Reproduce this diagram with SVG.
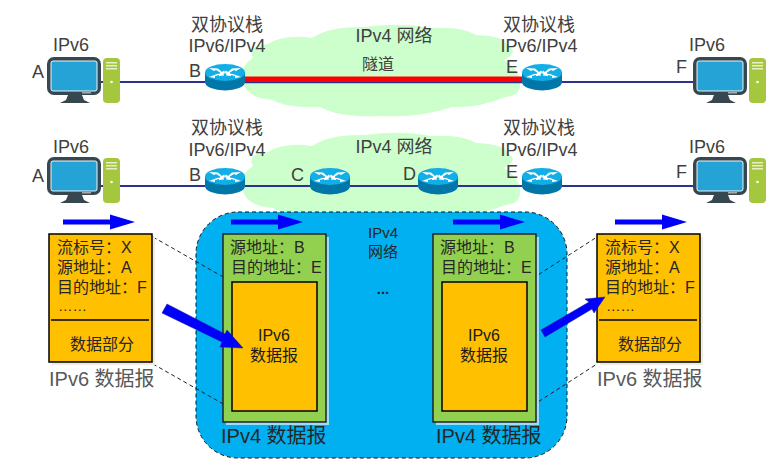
<svg xmlns="http://www.w3.org/2000/svg" width="775" height="464" viewBox="0 0 775 464">
<style>
text{font-family:"Liberation Sans","Noto Sans CJK SC",sans-serif}
.t18{font-size:18px;fill:#404040}
.t20{font-size:20px;fill:#595959}
.t20d{font-size:20px;fill:#262626}
.t16{font-size:16px;fill:#262626}
.t16b{font-size:16px;fill:#1a1a1a}
.t16c{font-size:16px;fill:#404040}
.t15{font-size:15px;fill:#262626}
.mid{text-anchor:middle}
.link{stroke:#2e3192;stroke-width:2;fill:none}
.dash{stroke:#222;stroke-width:1;stroke-dasharray:4 3;fill:none}
.cl{fill:#ccffcc}
.or{fill:#ffc000;stroke:#000;stroke-width:1.5}
.gr{fill:#92d050;stroke:#222;stroke-width:1.5}
.blue{fill:#0000ff}
.shadow{fill:#eeece1}
</style>
<defs>
<path id="cloud" class="cl" d="M253 58Q246 46 268 44Q285 34 312 38Q330 26 365 27Q400 22 430 28Q462 26 476 35Q505 36 507 45Q520 52 504 60Q522 72 520 85Q520 96 505 97Q480 108 452 107Q420 118 383 116Q340 118 320 107Q285 108 273 100Q245 98 242 80Q240 66 253 58z"/>
<g id="pc">
<rect x="49" y="59" width="50" height="34" rx="5" fill="#25a3d6" stroke="#37474f" stroke-width="4"/>
<rect x="51" y="61" width="46" height="30" rx="2" fill="#25a3d6" stroke="#e8f4f8" stroke-width="1"/>
<path d="M68 95h14l2 5 6 3h-30l6-3z" fill="#37474f"/>
<rect x="82" y="92" width="9" height="1.500" fill="#aaa"/>
<rect x="103" y="58" width="17" height="45" rx="4" fill="#a4c73e"/>
<rect x="106" y="62" width="11" height="1.500" fill="#e8efc8"/>
<rect x="106" y="65" width="11" height="1.500" fill="#e8efc8"/>
<rect x="106" y="68" width="11" height="1.500" fill="#e8efc8"/>
<circle cx="111.500" cy="82" r="1.300" fill="#fff"/>
</g>
<g id="router">
<path d="M-20 -4v9a20 8.500 0 0 0 40 0v-9z" fill="#0077a8"/>
<ellipse cx="0" cy="-4.500" rx="20" ry="8.500" fill="#12aee6"/>
<path d="M-16 -9L-7 -8.500-3 -5-1 -6.500 1 -3.500-5 -3-5 -4.500-9 -7-11 -6zM16 -9L7 -8.500 3 -5 1 -6.500-1 -3.500 5 -3 5 -4.500 9 -7 11 -6zM-16 0L-8 -3-3.500 -3.500-2 -5-1 -1.500-6 -1-6 -2-10 -1-10 1zM16 0L8 -3 3.500 -3.500 2 -5 1 -1.500 6 -1 6 -2 10 -1 10 1z" fill="#fff"/>
</g>
<path id="arr" d="M0 -2.500H47V-7.500L72 0 47 7.500V2.500H0z" class="blue"/>
<g id="dg">
<rect x="3" y="3" width="103" height="128" class="shadow"/>
<rect x="0" y="0" width="103" height="128" class="or"/>
<path d="M2 86H100" stroke="#000" stroke-width="1.500"/>
<text x="8" y="19" class="t16">流标号：X</text>
<text x="8" y="39" class="t16">源地址：A</text>
<text x="8" y="59" class="t16">目的地址：F</text>
<text x="9" y="77" class="t15" style="font-size:14.500px">……</text>
<text x="53" y="116" class="t16 mid">数据部分</text>
</g>
<g id="v4">
<rect x="3" y="3" width="103" height="188" fill="#fff" opacity=".6"/>
<rect x="0" y="0" width="103" height="188" class="gr"/>
<rect x="9" y="48" width="85" height="129" class="or"/>
<text x="7" y="19" class="t16">源地址：B</text>
<text x="8" y="39" class="t16">目的地址：E</text>
<text x="51" y="107" class="t16b mid">IPv6</text>
<text x="51" y="127" class="t16b mid">数据报</text>
</g>
</defs>

<g id="cloud-top"><use href="#cloud"/><text x="394" y="42" class="t18 mid">IPv4 网络</text></g>
<g id="cloud-bottom"><use href="#cloud" y="108"/><text x="394" y="153" class="t18 mid">IPv4 网络</text></g>

<g id="ipv4-network">
<rect x="196" y="212" width="371" height="246" rx="42" fill="#00b0f0" stroke="#111" stroke-width="1" stroke-dasharray="4 3"/>
<text x="383" y="238" class="t15 mid">IPv4</text>
<text x="383" y="257" class="t15 mid">网络</text>
<text x="383" y="294" class="t15 mid" style="font-weight:bold">...</text>
</g>

<g id="connectors">
<path class="link" d="M96 82H205M562 82H694"/>
<path class="link" style="stroke-width:1.500" d="M245 82.500H522"/>
<rect x="245" y="76.500" width="277" height="5.500" fill="#ff0000"/>
<path class="link" d="M96 186H205M245 186H310M350 186H418M458 186H522M562 186H694"/>
<path class="dash" d="M153 237L232 282M153 364L232 409M527 282L597 237M527 409L597 364"/>
</g>

<g id="pc-a1"><use href="#pc"/><text x="53" y="51" class="t18">IPv6</text><text x="32" y="78" class="t18">A</text></g>
<g id="pc-f1"><use href="#pc" x="646"/><text x="689" y="51" class="t18">IPv6</text><text x="676" y="73" class="t18">F</text></g>
<g id="pc-a2"><use href="#pc" y="100"/><text x="53" y="153" class="t18">IPv6</text><text x="32" y="182" class="t18">A</text></g>
<g id="pc-f2"><use href="#pc" x="646" y="100"/><text x="689" y="153" class="t18">IPv6</text><text x="676" y="178" class="t18">F</text></g>

<g id="router-b1"><use href="#router" x="225" y="77"/><text x="189" y="77" class="t18">B</text><text x="227" y="31" class="t18 mid">双协议栈</text><text x="227" y="52" class="t18 mid">IPv6/IPv4</text></g>
<g id="router-e1"><use href="#router" x="542" y="77"/><text x="506" y="73" class="t18">E</text><text x="539" y="31" class="t18 mid">双协议栈</text><text x="539" y="52" class="t18 mid">IPv6/IPv4</text></g>
<g id="tunnel-label"><text x="378" y="70" class="t16c mid">隧道</text></g>
<g id="router-b2"><use href="#router" x="225" y="181"/><text x="189" y="181" class="t18">B</text><text x="227" y="134" class="t18 mid">双协议栈</text><text x="227" y="156" class="t18 mid">IPv6/IPv4</text></g>
<g id="router-c"><use href="#router" x="330" y="181"/><text x="291" y="181" class="t18">C</text></g>
<g id="router-d"><use href="#router" x="438" y="181"/><text x="403" y="180" class="t18">D</text></g>
<g id="router-e2"><use href="#router" x="542" y="181"/><text x="506" y="178" class="t18">E</text><text x="539" y="134" class="t18 mid">双协议栈</text><text x="539" y="156" class="t18 mid">IPv6/IPv4</text></g>

<g id="direction-arrows">
<use href="#arr" x="63" y="222"/>
<use href="#arr" x="231" y="222"/>
<use href="#arr" x="453" y="222"/>
<use href="#arr" x="615" y="222"/>
</g>

<g id="ipv6-left"><use href="#dg" x="49" y="234"/><text x="49" y="386" class="t20">IPv6 数据报</text></g>
<g id="ipv6-right"><use href="#dg" x="597" y="234"/><text x="597" y="386" class="t20">IPv6 数据报</text></g>
<g id="ipv4-left"><use href="#v4" x="223" y="234"/><text x="221" y="443" class="t20d">IPv4 数据报</text></g>
<g id="ipv4-right"><use href="#v4" x="433" y="234"/><text x="436" y="443" class="t20d">IPv4 数据报</text></g>

<g id="block-arrows">
<path d="M167 304L225 334 227 330 243 348 220 347 222 342 162 313z" class="blue" stroke="#1a1a8c" stroke-width=".5"/>
<path d="M541 330L589 302 585 299 605 297 594 313 592 309 545 337z" class="blue" stroke="#1a1a8c" stroke-width=".5"/>
</g>
</svg>
